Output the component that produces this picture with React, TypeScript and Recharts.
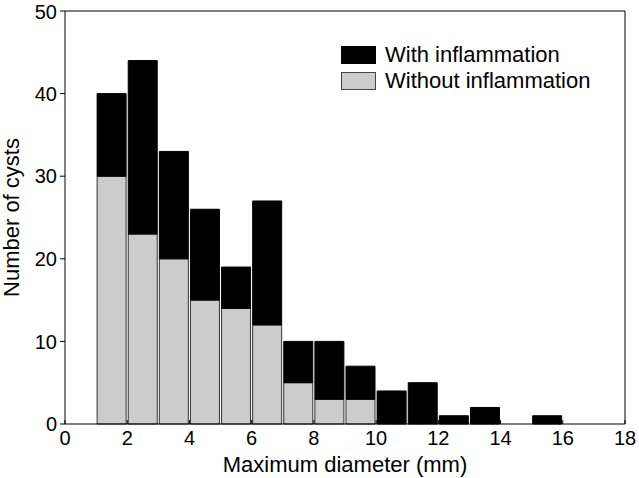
import React from "react";
import { BarChart, Bar, XAxis, YAxis, Legend, Label, ReferenceLine } from "recharts";

const binStarts = [0,1,2,3,4,5,6,7,8,9,10,11,12,13,14,15,16,17];
const withoutInflammation = [0,30,23,20,15,14,12,5,3,3,0,0,0,0,0,0,0,0];
const withInflammation = [0,10,21,13,11,5,15,5,7,4,4,5,1,2,0,1,0,0];
const xTicks = [0,2,4,6,8,10,12,14,16,18];
const yTicks = [0,10,20,30,40,50];

const data = binStarts.map((start, i) => ({
  mid: start + 0.5,
  without: withoutInflammation[i],
  with: withInflammation[i],
}));

const FONT = "'Liberation Sans', Arial, Helvetica, sans-serif";

const LegendBox = () => (
  <div style={{ fontFamily: FONT, fontSize: 22, color: "#000", lineHeight: "26px" }}>
    <div style={{ display: "flex", alignItems: "center" }}>
      <span style={{ display: "inline-block", width: 33, height: 16, background: "#000", border: "1px solid #000", marginRight: 9 }} />
      <span>With inflammation</span>
    </div>
    <div style={{ display: "flex", alignItems: "center" }}>
      <span style={{ display: "inline-block", width: 33, height: 16, background: "#cccccc", border: "1px solid #444", marginRight: 9 }} />
      <span>Without inflammation</span>
    </div>
  </div>
);

export default function App() {
  return (
    <div style={{ position: "absolute", left: 0, top: 0, width: 639, height: 478 }}>
      <BarChart
        width={639}
        height={478}
        data={data}
        margin={{ top: 11, right: 14, bottom: 0, left: 0 }}
        barCategoryGap={1}
        barGap={0}
      >
        <Bar dataKey="without" stackId="a" fill="#cccccc" stroke="#333" strokeWidth={1} isAnimationActive={false} legendType="none" />
        <Bar dataKey="with" stackId="a" fill="#000" stroke="#000" strokeWidth={1} isAnimationActive={false} legendType="none" />
        <XAxis
          dataKey="mid"
          type="number"
          domain={[0, 18]}
          ticks={xTicks}
          allowDataOverflow
          height={54}
          tickSize={-4}
          tickMargin={11}
          stroke="#000"
          tick={{ fill: "#000", fontSize: 20, fontFamily: FONT }}
        >
          <Label
            value="Maximum diameter (mm)"
            position="insideBottom"
            offset={6}
            style={{ fill: "#000", fontSize: 22, fontFamily: FONT }}
          />
        </XAxis>
        <YAxis
          type="number"
          domain={[0, 50]}
          ticks={yTicks}
          width={65}
          tickSize={5}
          tickMargin={3}
          stroke="#000"
          tick={{ fill: "#000", fontSize: 20, fontFamily: FONT }}
        >
          <Label
            value="Number of cysts"
            angle={-90}
            position="insideLeft"
            offset={11}
            style={{ textAnchor: "middle", fill: "#000", fontSize: 22, fontFamily: FONT }}
          />
        </YAxis>
        <ReferenceLine y={50} stroke="#000" strokeWidth={1} ifOverflow="visible" />
        <ReferenceLine x={18} stroke="#000" strokeWidth={1} ifOverflow="visible" />
        <Legend
          layout="horizontal"
          verticalAlign="middle"
          align="center"
          content={<LegendBox />}
          wrapperStyle={{ position: "absolute", left: 341, top: 42, width: 290 }}
        />
      </BarChart>
    </div>
  );
}
